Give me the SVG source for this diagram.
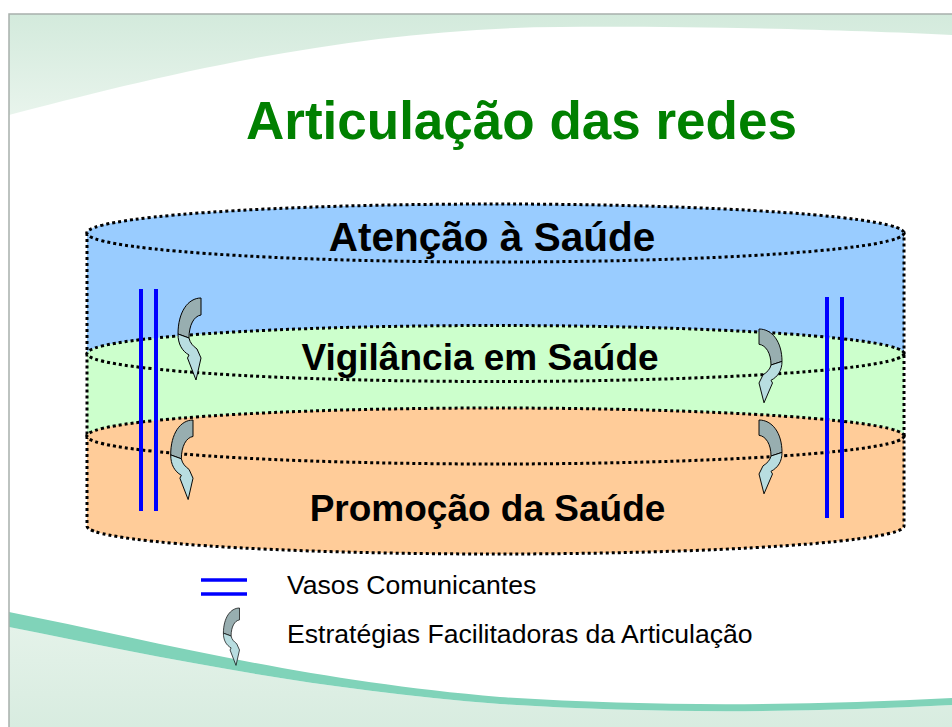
<svg xmlns="http://www.w3.org/2000/svg" xmlns:xlink="http://www.w3.org/1999/xlink" width="952" height="727" viewBox="0 0 952 727">
<defs>
<style>
.dot{stroke:#000;stroke-width:3;stroke-dasharray:3 3;}
.blue{fill:#99CCFF;}
.green{fill:#CCFFCC;}
.orange{fill:#FFCC99;}
.lbl{font-family:"Liberation Sans",Arial,sans-serif;font-weight:bold;fill:#000;text-anchor:middle;}
.leg{font-family:"Liberation Sans",Arial,sans-serif;fill:#000;font-size:26.6px;}
.vaso{stroke:#0000FF;stroke-width:4;fill:none;}
.back{fill:#98AEB0;stroke:#000;stroke-width:1;stroke-linejoin:round;}
.front{fill:#B8DDE0;stroke:#000;stroke-width:1;stroke-linejoin:round;}
</style>
<linearGradient id="topg" x1="0" y1="0" x2="0" y2="1">
<stop offset="0" stop-color="#D3EADC"/>
<stop offset="1" stop-color="#E8F4EC"/>
</linearGradient>
<linearGradient id="botg" x1="0" y1="0" x2="0" y2="1">
<stop offset="0" stop-color="#E4F2E9"/>
<stop offset="1" stop-color="#D8ECE0"/>
</linearGradient>
<g id="curvArrow">
<path class="back" d="M0,0 C-13,0 -23,14 -23,36 L-12,40 C-12,27 -7,18 0,17 Z"/>
<path class="front" d="M-23,36 C-23,46 -19,53 -12,57 L-13.5,60 L-5,82 L0,60 L-4,51 C-8,48 -11,45 -12,40 Z"/>
</g>
</defs>
<g id="background">
<rect x="0" y="0" width="952" height="727" fill="#FFFFFF"/>
<path d="M9,14 L952,14 L952,35 C850,30 700,26 560,27 C350,28 150,78 9,115 Z" fill="url(#topg)"/>
<path d="M9,627 C150,655 300,688 500,704 C650,714 800,713 952,705 L952,727 L9,727 Z" fill="url(#botg)"/>
<path d="M9,612 C150,640 300,680 500,697 C650,707 800,706 952,698 L952,705 C800,713 650,714 500,704 C300,688 150,655 9,627 Z" fill="#80D3B9"/>
<path d="M9,727 L9,14 L952,14" fill="none" stroke="#A8B0AC" stroke-width="1.5"/>
</g>
<text x="246" y="139" font-family="'Liberation Sans',Arial,sans-serif" font-weight="bold" font-size="53" fill="#008000">Articulação das redes</text>
<g id="atencao">
<path class="blue dot" d="M87,233 L87,353 A408.5,28 0 0 0 904,353 L904,233 Z"/>
<ellipse class="blue dot" cx="495.5" cy="233" rx="408.5" ry="29"/>
<text class="lbl" x="492" y="251" font-size="40.5">Atenção à Saúde</text>
</g>
<g id="vigilancia">
<path class="green dot" d="M87,353.5 L87,436 A408.5,28 0 0 0 904,436 L904,353.5 Z"/>
<ellipse class="green dot" cx="495.5" cy="353.5" rx="408.5" ry="28"/>
<text class="lbl" x="480" y="370" font-size="37">Vigilância em Saúde</text>
</g>
<g id="promocao">
<path class="orange dot" d="M87,436 L87,526 A408.5,28 0 0 0 904,526 L904,436 Z"/>
<ellipse class="orange dot" cx="495.5" cy="436" rx="408.5" ry="28"/>
<text class="lbl" x="487.5" y="521" font-size="37">Promoção da Saúde</text>
</g>
<g id="connectors">
<line class="vaso" x1="141" y1="289" x2="141" y2="511"/>
<line class="vaso" x1="156" y1="289" x2="156" y2="511"/>
<line class="vaso" x1="827" y1="297" x2="827" y2="518"/>
<line class="vaso" x1="842" y1="297" x2="842" y2="518"/>
<use xlink:href="#curvArrow" href="#curvArrow" transform="translate(201,298)"/>
<use xlink:href="#curvArrow" href="#curvArrow" transform="translate(193,420) scale(0.97)"/>
<use xlink:href="#curvArrow" href="#curvArrow" transform="translate(759,329) scale(-1,0.9)"/>
<use xlink:href="#curvArrow" href="#curvArrow" transform="translate(759,420) scale(-1,0.9)"/>
</g>
<g id="legend">
<line class="vaso" x1="201" y1="580" x2="247" y2="580" style="stroke-width:3.5"/>
<line class="vaso" x1="201" y1="594" x2="247" y2="594" style="stroke-width:3.5"/>
<use xlink:href="#curvArrow" href="#curvArrow" transform="translate(239.5,608) scale(0.7)"/>
<text class="leg" x="287" y="594">Vasos Comunicantes</text>
<text class="leg" x="287" y="643">Estratégias Facilitadoras da Articulação</text>
</g>
</svg>
